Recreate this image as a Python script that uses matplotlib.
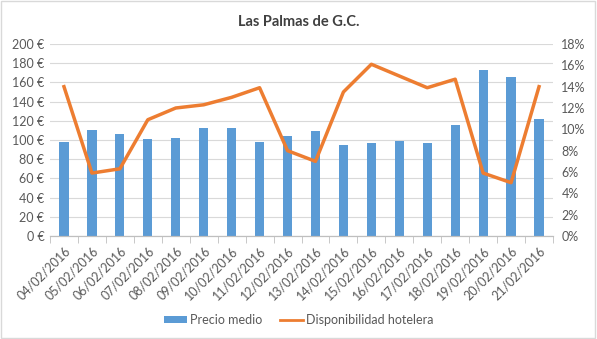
import matplotlib.pyplot as plt
import numpy as np
from matplotlib.ticker import FuncFormatter

# datos
fechas = ["04/02/2016", "05/02/2016", "06/02/2016", "07/02/2016", "08/02/2016",
          "09/02/2016", "10/02/2016", "11/02/2016", "12/02/2016", "13/02/2016",
          "14/02/2016", "15/02/2016", "16/02/2016", "17/02/2016", "18/02/2016",
          "19/02/2016", "20/02/2016", "21/02/2016"]
precio = [98, 110, 106, 101, 102, 112, 112, 98, 104, 109,
          95, 97, 99, 97, 116, 173, 166, 122]
disponibilidad = [14.0, 5.9, 6.3, 10.9, 12.0, 12.3, 13.0, 13.9, 8.0, 7.0,
                  13.5, 16.1, 15.0, 13.9, 14.7, 5.9, 5.0, 14.0]

azul = "#5B9BD5"
naranja = "#ED7D31"
gris = "#595959"

plt.rcParams['font.family'] = ['Lato', 'DejaVu Sans']

fig = plt.figure(figsize=(5.97, 3.39), dpi=100)
ax = fig.add_axes([50/597, 1-236/339, 503/597, 192/339])
ax2 = ax.twinx()

x = np.arange(len(fechas))
ax.bar(x, precio, width=0.33, color=azul, zorder=2, label="Precio medio")
ax2.plot(x, disponibilidad, color=naranja, lw=2.5, zorder=3,
         solid_joinstyle='round', label="Disponibilidad hotelera")

ax.set_xlim(-0.5, len(fechas) - 0.5)
ax.set_ylim(0, 200)
ax.set_yticks(range(0, 201, 20))
ax.yaxis.set_major_formatter(FuncFormatter(lambda v, p: f"{int(v)} €"))
ax2.set_ylim(0, 18)
ax2.set_yticks(range(0, 19, 2))
ax2.yaxis.set_major_formatter(FuncFormatter(lambda v, p: f"{int(v)}%"))

ax.grid(axis='y', color="#D9D9D9", lw=0.8, zorder=0)
ax.set_axisbelow(True)
for a in (ax, ax2):
    for s in ("top", "left", "right"):
        a.spines[s].set_visible(False)
    a.spines["bottom"].set_color("#BFBFBF")
ax.tick_params(axis='y', length=0, labelsize=9, labelcolor=gris, pad=4)
ax2.tick_params(axis='y', length=0, labelsize=9, labelcolor=gris, pad=6)

ax.set_xticks(x)
ax.set_xticklabels(fechas, rotation=45, ha='right', rotation_mode='anchor',
                   fontsize=9, color=gris)
ax.tick_params(axis='x', which='major', length=0, pad=6)
ax.set_xticks(np.arange(-0.5, len(fechas)), minor=True)
ax.tick_params(axis='x', which='minor', length=5, color="#BFBFBF")

fig.suptitle("Las Palmas de G.C.", y=0.955, fontsize=10.5, fontweight='bold',
             color="#404040")

h1, l1 = ax.get_legend_handles_labels()
h2, l2 = ax2.get_legend_handles_labels()
leg = fig.legend(h1 + h2, l1 + l2, loc='center', bbox_to_anchor=(0.5, 1-320/339),
                 ncol=2, frameon=False, fontsize=9, labelcolor=gris,
                 handlelength=1.9, handleheight=0.55, columnspacing=1.4,
                 handletextpad=0.2)
leg.legend_handles[1].set_linewidth(2)

fig.patches.append(plt.Rectangle((0.002, 0.003), 0.995, 0.994, transform=fig.transFigure,
                                 fill=False, edgecolor="#D9D9D9", lw=1))

fig.savefig("out.png", dpi=100)
